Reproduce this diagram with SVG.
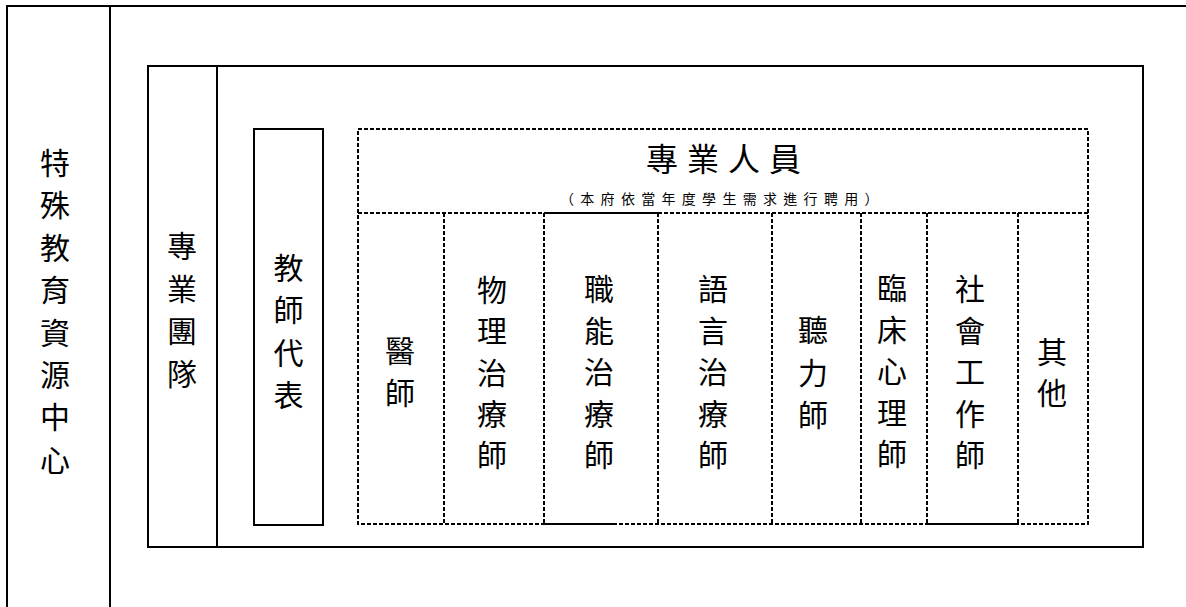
<svg xmlns="http://www.w3.org/2000/svg" width="1186" height="607" viewBox="0 0 1186 607">
<style>
.s{fill:none;stroke:#000;stroke-width:2}
.d{fill:none;stroke:#000;stroke-width:2;stroke-dasharray:4 2}
.t{font-family:"Noto Sans CJK TC","Noto Sans CJK SC",sans-serif;font-size:30px;fill:#000;text-anchor:middle;dominant-baseline:central}
.h{font-family:"Noto Sans CJK TC","Noto Sans CJK SC",sans-serif;font-size:32px;fill:#000;dominant-baseline:central}
.sub{font-family:"Noto Sans CJK TC","Noto Sans CJK SC",sans-serif;font-size:14px;fill:#000;dominant-baseline:central}
</style>
<rect width="1186" height="607" fill="#fff"/>
<g id="frame">
<line class="s" x1="6" y1="6" x2="1186" y2="6"/>
<line class="s" x1="7" y1="5" x2="7" y2="607"/>
<line class="s" x1="110" y1="5" x2="110" y2="607"/>
</g>
<g id="center">
<text class="t"><tspan x="55" y="161">特</tspan><tspan x="55" y="203.4">殊</tspan><tspan x="55" y="245.8">教</tspan><tspan x="55" y="288.2">育</tspan><tspan x="55" y="330.6">資</tspan><tspan x="55" y="373">源</tspan><tspan x="55" y="415.4">中</tspan><tspan x="55" y="457.8">心</tspan></text>
</g>
<g id="team">
<rect class="s" x="148" y="66" width="995" height="481"/>
<line class="s" x1="217" y1="66" x2="217" y2="547"/>
<text class="t"><tspan x="182" y="244">專</tspan><tspan x="182" y="286.7">業</tspan><tspan x="182" y="329.4">團</tspan><tspan x="182" y="372">隊</tspan></text>
</g>
<g id="teacher">
<rect class="s" x="254" y="129" width="69" height="396"/>
<text class="t"><tspan x="288.5" y="266">教</tspan><tspan x="288.5" y="308.3">師</tspan><tspan x="288.5" y="350.6">代</tspan><tspan x="288.5" y="393">表</tspan></text>
</g>
<g id="staff-header">
<rect class="d" x="358" y="129" width="730" height="395"/>
<line class="d" x1="358" y1="213" x2="1088" y2="213"/>
<line class="s" x1="544" y1="213" x2="658" y2="213"/>
<text class="h" x="646" y="157" letter-spacing="9">專業人員</text>
<text class="sub" x="560" y="198" letter-spacing="6.3">（本府依當年度學生需求進行聘用）</text>
</g>
<g id="cols">
<line class="d" x1="444" y1="213" x2="444" y2="524"/>
<line class="d" x1="544" y1="213" x2="544" y2="524"/>
<line class="d" x1="658" y1="213" x2="658" y2="524"/>
<line class="d" x1="772" y1="213" x2="772" y2="524"/>
<line class="d" x1="861" y1="213" x2="861" y2="524"/>
<line class="d" x1="927" y1="213" x2="927" y2="524"/>
<line class="d" x1="1018" y1="213" x2="1018" y2="524"/>
<line class="s" x1="544" y1="524" x2="613" y2="524"/>
<line class="s" x1="927" y1="524" x2="1018" y2="524"/>
</g>
<g id="doctor"><text class="t"><tspan x="400" y="349">醫</tspan><tspan x="400" y="391">師</tspan></text></g>
<g id="pt"><text class="t"><tspan x="492" y="288">物</tspan><tspan x="492" y="329.3">理</tspan><tspan x="492" y="370.6">治</tspan><tspan x="492" y="412">療</tspan><tspan x="492" y="453">師</tspan></text></g>
<g id="ot"><text class="t"><tspan x="599" y="287">職</tspan><tspan x="599" y="328.5">能</tspan><tspan x="599" y="370">治</tspan><tspan x="599" y="411.5">療</tspan><tspan x="599" y="453">師</tspan></text></g>
<g id="slp"><text class="t"><tspan x="713" y="287">語</tspan><tspan x="713" y="328.5">言</tspan><tspan x="713" y="370">治</tspan><tspan x="713" y="411.5">療</tspan><tspan x="713" y="453">師</tspan></text></g>
<g id="aud"><text class="t"><tspan x="813" y="328">聽</tspan><tspan x="813" y="370.5">力</tspan><tspan x="813" y="413">師</tspan></text></g>
<g id="psy"><text class="t"><tspan x="892" y="286">臨</tspan><tspan x="892" y="327.5">床</tspan><tspan x="892" y="369">心</tspan><tspan x="892" y="410.5">理</tspan><tspan x="892" y="452">師</tspan></text></g>
<g id="sw"><text class="t"><tspan x="970" y="287">社</tspan><tspan x="970" y="328.5">會</tspan><tspan x="970" y="370">工</tspan><tspan x="970" y="411.5">作</tspan><tspan x="970" y="453">師</tspan></text></g>
<g id="other"><text class="t"><tspan x="1052" y="350">其</tspan><tspan x="1052" y="391">他</tspan></text></g>
</svg>
